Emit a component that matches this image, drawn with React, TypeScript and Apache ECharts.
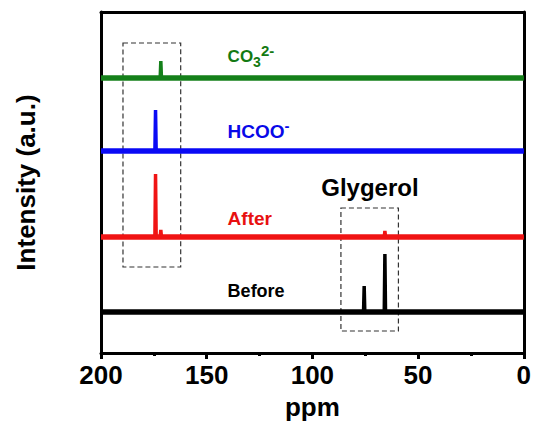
import React, { useEffect, useRef } from "react";
import * as echarts from "echarts";

const ppmMin = 0;
const ppmMax = 200;
const ppmInterval = 50;
const intensityMax = 341;

const spectrumNames = ["Before", "After", "HCOO", "CO3"];
const spectrumColors = ["#000000", "#f01414", "#0a0af5", "#14801a"];
const baselines = [41, 116, 202, 275];
// [ppm, peak height above baseline]
const beforePeaks = [[75.5, 26], [65.7, 58]];
const afterPeaks = [[174.2, 63], [171.7, 7], [65.7, 6]];
const hcooPeaks = [[174.2, 41]];
const co3Peaks = [[171.7, 17]];
const allPeaks = [beforePeaks, afterPeaks, hcooPeaks, co3Peaks];

// dashed boxes: [ppmFrom, ppmTo, yFrom, yTo]
const boxCarbonyl = [189.6, 162.3, 86, 310];
const boxGlycerol = [86.5, 59.3, 22, 145];

// annotation labels: position in data units
const labelTexts = ["{a|CO}{b|3}{c|2-}", "{a|HCOO}{c|-}", "After", "Before", "Glygerol"];
const labelPpm = [140.1, 140.1, 140.1, 140.1, 95.8];
const labelY = [297, 222, 135, 62, 166];
const labelColors = ["#137a13", "#0808e8", "#e81010", "#000000", "#000000"];
const labelSizes = [17, 19, 19, 18, 24];

function buildSpectrum(base: number, peaks: number[][]) {
  const sorted = [...peaks].sort((a, b) => b[0] - a[0]);
  const pts: number[][] = [[ppmMax, base]];
  sorted.forEach(([p, h]) => {
    pts.push([p + 0.3, base]);
    pts.push([p, base + h]);
    pts.push([p - 0.3, base]);
  });
  pts.push([ppmMin, base]);
  return pts;
}

export default function App() {
  const ref = useRef<HTMLDivElement>(null);
  useEffect(() => {
    if (!ref.current) return;
    const chart = echarts.init(ref.current, undefined, { renderer: "svg" });
    const font = "'Liberation Sans', Arial, sans-serif";
    const series: any[] = [];
    spectrumNames.forEach((name, i) => {
      series.push({
        name: name + "-base",
        type: "line",
        data: [[ppmMax, baselines[i]], [ppmMin, baselines[i]]],
        symbol: "none",
        lineStyle: { color: spectrumColors[i], width: 5.5 },
        silent: true,
        z: 2,
      });
      series.push({
        name,
        type: "line",
        data: buildSpectrum(baselines[i], allPeaks[i]),
        symbol: "none",
        lineStyle: { color: spectrumColors[i], width: 3.5 },
        z: 3,
      });
    });
    const boxStyle = {
      color: "rgba(0,0,0,0)",
      borderColor: "#333333",
      borderWidth: 1.2,
      borderType: [5, 3],
    };
    series.push({
      name: "boxes",
      type: "line",
      data: [],
      symbol: "none",
      markArea: {
        silent: true,
        itemStyle: boxStyle,
        data: [
          [
            { coord: [boxCarbonyl[0], boxCarbonyl[3]] },
            { coord: [boxCarbonyl[1], boxCarbonyl[2]] },
          ],
          [
            { coord: [boxGlycerol[0], boxGlycerol[3]] },
            { coord: [boxGlycerol[1], boxGlycerol[2]] },
          ],
        ],
      },
    });
    labelTexts.forEach((t, i) => {
      const c = labelColors[i];
      series.push({
        name: "label" + i,
        type: "scatter",
        data: [[labelPpm[i], labelY[i]]],
        symbolSize: 0,
        silent: true,
        itemStyle: { opacity: 1 },
        label: {
          show: true,
          position: "right",
          distance: 0,
          formatter: t,
          color: c,
          opacity: 1,
          fontFamily: font,
          fontWeight: "bold",
          fontSize: labelSizes[i],
          rich: {
            a: { fontSize: labelSizes[i], fontWeight: "bold", color: c, fontFamily: font, verticalAlign: "middle", lineHeight: 26 },
            b: { fontSize: 14, fontWeight: "bold", color: c, fontFamily: font, verticalAlign: "bottom", lineHeight: 26 },
            c: { fontSize: 15, fontWeight: "bold", color: c, fontFamily: font, verticalAlign: "top", lineHeight: 26 },
          },
        },
      });
    });

    chart.setOption({
      animation: false,
      backgroundColor: "#ffffff",
      grid: { left: 101, right: 9, top: 12, bottom: 75, containLabel: false },
      xAxis: [
        {
          type: "value",
          min: ppmMin,
          max: ppmMax,
          interval: ppmInterval,
          inverse: true,
          name: "ppm",
          nameLocation: "middle",
          nameGap: 41,
          nameTextStyle: { fontFamily: font, fontWeight: "bold", fontSize: 26, color: "#000" },
          axisLine: { show: true, onZero: false, lineStyle: { color: "#000", width: 3 } },
          axisTick: { show: true, inside: false, length: 6, lineStyle: { color: "#000", width: 3 } },
          minorTick: { show: true, splitNumber: 2, length: 3, lineStyle: { color: "#000", width: 3 } },
          axisLabel: { fontFamily: font, fontWeight: "bold", fontSize: 26, color: "#000", margin: 9 },
          splitLine: { show: false },
        },
        {
          type: "value",
          position: "top",
          min: ppmMin,
          max: ppmMax,
          inverse: true,
          axisLine: { show: true, onZero: false, lineStyle: { color: "#000", width: 3 } },
          axisTick: { show: false },
          axisLabel: { show: false },
          splitLine: { show: false },
        },
      ],
      yAxis: [
        {
          type: "value",
          min: 0,
          max: intensityMax,
          name: "Intensity (a.u.)",
          nameLocation: "middle",
          nameGap: 62,
          nameTextStyle: { fontFamily: font, fontWeight: "bold", fontSize: 26, color: "#000" },
          axisLine: { show: true, onZero: false, lineStyle: { color: "#000", width: 3 } },
          axisTick: { show: false },
          axisLabel: { show: false },
          splitLine: { show: false },
        },
        {
          type: "value",
          position: "right",
          min: 0,
          max: intensityMax,
          axisLine: { show: true, onZero: false, lineStyle: { color: "#000", width: 3 } },
          axisTick: { show: false },
          axisLabel: { show: false },
          splitLine: { show: false },
        },
      ],
      series,
    });
    return () => chart.dispose();
  }, []);
  return <div ref={ref} style={{ width: 534, height: 428, position: "absolute", left: 0, top: 0 }} />;
}
